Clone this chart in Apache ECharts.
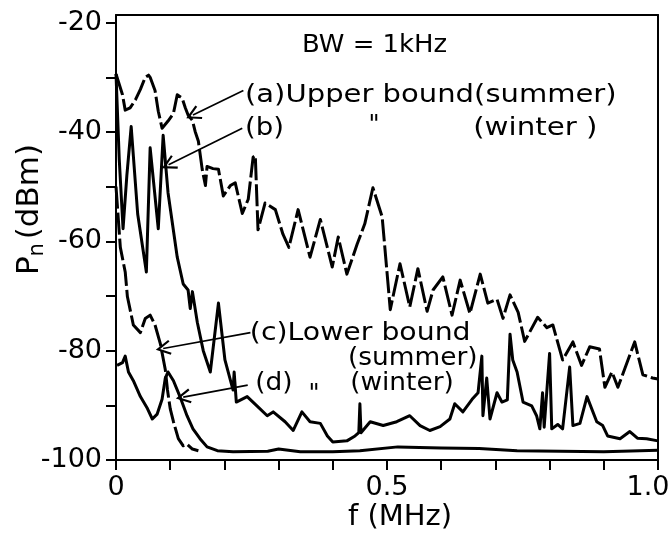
<!DOCTYPE html>
<html>
<head>
<meta charset="utf-8">
<script src="https://cdn.jsdelivr.net/npm/echarts@6/dist/echarts.min.js"></script>
<style>
  html, body { margin: 0; padding: 0; background: #fff; }
  #chart { width: 668px; height: 539px; }
</style>
</head>
<body>
<div id="chart"></div>
<script>
// Axis ticks and labels
const xTickValues = [0, 0.1, 0.2, 0.3, 0.4, 0.5, 0.6, 0.7, 0.8, 0.9, 1.0];
const xLabelValues = [0, 0.5, 1.0];
const yTickValues = [-100, -90, -80, -70, -60, -50, -40, -30, -20];
const yLabelValues = [-100, -80, -60, -40, -20];

// Noise power spectra, [frequency (MHz), Pn (dBm)]
// (a) upper bound, summer
const upperSummer = [
  [0.000, -29.4], [0.012, -33.2], [0.017, -36.0], [0.026, -35.6], [0.036, -34.1], [0.045, -32.2],
  [0.054, -30.0], [0.060, -29.6], [0.063, -30.0], [0.072, -32.4], [0.078, -36.2], [0.085, -39.3],
  [0.096, -38.0], [0.106, -36.6], [0.113, -33.2], [0.122, -33.8], [0.128, -35.6], [0.133, -36.9],
  [0.141, -37.9], [0.146, -39.9], [0.152, -41.7], [0.159, -46.8], [0.165, -49.8], [0.168, -46.3],
  [0.179, -46.7], [0.189, -46.8], [0.198, -51.7], [0.211, -49.8], [0.220, -49.3], [0.233, -54.9],
  [0.244, -52.3], [0.253, -44.6], [0.257, -44.3], [0.262, -57.9], [0.275, -53.0], [0.294, -54.2],
  [0.308, -58.7], [0.319, -61.1], [0.336, -54.2], [0.358, -62.9], [0.377, -56.0], [0.399, -64.7],
  [0.410, -59.2], [0.426, -66.0], [0.445, -60.5], [0.459, -56.8], [0.474, -50.2], [0.491, -55.5],
  [0.496, -61.1], [0.506, -72.5], [0.524, -64.1], [0.542, -72.0], [0.557, -65.0], [0.574, -72.8],
  [0.585, -68.9], [0.603, -66.5], [0.620, -73.5], [0.635, -67.1], [0.653, -73.2], [0.672, -66.0],
  [0.686, -71.3], [0.703, -70.6], [0.714, -74.1], [0.727, -69.8], [0.742, -73.0], [0.754, -78.3],
  [0.778, -73.9], [0.795, -75.8], [0.806, -75.3], [0.824, -81.7], [0.843, -78.4], [0.859, -82.7],
  [0.874, -79.3], [0.892, -79.7], [0.902, -86.7], [0.915, -83.9], [0.926, -86.7], [0.957, -78.4],
  [0.972, -84.4], [0.990, -85.0], [1.000, -85.2]
];
// (b) upper bound, winter
const upperWinter = [
  [0.000, -29.4], [0.006, -45.0], [0.013, -57.7], [0.020, -48.0], [0.028, -39.0], [0.040, -55.0],
  [0.056, -65.6], [0.063, -42.9], [0.078, -57.7], [0.087, -40.6], [0.096, -51.1], [0.113, -62.9],
  [0.124, -67.8], [0.133, -68.9], [0.137, -72.3], [0.141, -69.2], [0.150, -74.8], [0.161, -80.0],
  [0.174, -83.9], [0.189, -71.3], [0.201, -81.7], [0.216, -87.2], [0.218, -83.9], [0.222, -89.4],
  [0.242, -88.4], [0.260, -90.1], [0.279, -91.9], [0.290, -91.2], [0.312, -93.0], [0.327, -94.6],
  [0.343, -91.2], [0.358, -93.0], [0.377, -93.3], [0.390, -95.6], [0.400, -96.7], [0.426, -96.5],
  [0.441, -95.6], [0.448, -95.0], [0.450, -89.7], [0.452, -95.0], [0.469, -93.0], [0.493, -93.7],
  [0.518, -93.0], [0.542, -91.9], [0.561, -93.7], [0.579, -94.6], [0.598, -93.9], [0.616, -92.5],
  [0.625, -89.7], [0.640, -91.2], [0.657, -88.9], [0.668, -87.7], [0.675, -81.0], [0.677, -91.9],
  [0.684, -85.0], [0.690, -92.5], [0.703, -87.7], [0.712, -89.4], [0.722, -89.0], [0.727, -77.0],
  [0.732, -81.7], [0.740, -83.9], [0.751, -89.4], [0.767, -90.1], [0.776, -91.9], [0.782, -94.3],
  [0.787, -87.7], [0.790, -94.0], [0.800, -80.5], [0.804, -94.3], [0.815, -93.5], [0.824, -94.3],
  [0.837, -83.0], [0.843, -93.7], [0.856, -93.3], [0.869, -88.4], [0.887, -93.0], [0.898, -93.7],
  [0.907, -95.6], [0.930, -96.1], [0.948, -94.8], [0.962, -96.0], [0.979, -96.1], [1.000, -96.5]
];
// (c) lower bound, summer
const lowerSummer = [
  [0.000, -50.0], [0.008, -61.1], [0.017, -65.6], [0.021, -70.1], [0.032, -75.3], [0.045, -76.7],
  [0.054, -74.1], [0.063, -73.5], [0.072, -75.3], [0.082, -78.8], [0.091, -83.5], [0.095, -87.2],
  [0.100, -90.6], [0.106, -93.0], [0.115, -96.1], [0.124, -97.4], [0.131, -97.1], [0.141, -98.0],
  [0.152, -98.3]
];
// (d) lower bound, winter
const lowerWinter = [
  [0.002, -82.7], [0.012, -82.2], [0.017, -81.0], [0.023, -83.9], [0.032, -85.5], [0.045, -88.4],
  [0.058, -90.6], [0.067, -92.5], [0.076, -91.6], [0.085, -88.9], [0.091, -85.0], [0.096, -83.9],
  [0.106, -85.5], [0.118, -88.4], [0.131, -91.9], [0.142, -94.3], [0.155, -96.1], [0.168, -97.6],
  [0.187, -98.3], [0.216, -98.5], [0.280, -98.4], [0.300, -98.0], [0.340, -98.5], [0.400, -98.5],
  [0.450, -98.3], [0.520, -97.6], [0.600, -97.8], [0.670, -97.9], [0.740, -98.3], [0.820, -98.4],
  [0.900, -98.5], [1.000, -98.2]
];

// Leader arrows (from text to curve), in data coordinates
const arrowA = [[0.235, -32.4], [0.142, -36.9]];
const arrowB = [[0.233, -39.3], [0.097, -46.0]];
const arrowC = [[0.248, -76.7], [0.087, -79.6]];
const arrowD = [[0.243, -86.3], [0.124, -88.5]];

// Annotation texts anchored at their left/middle point in data coordinates
const notes = [
  { text: 'BW = 1kHz', at: [0.343, -24.3], sx: 1.08 },
  { text: '(a)Upper bound(summer)', at: [0.238, -33.4], sx: 1.21 },
  { text: '(b)', at: [0.238, -39.5], sx: 1.15 },
  { text: '"', at: [0.466, -38.9], sx: 1.0 },
  { text: '(winter )', at: [0.659, -39.5], sx: 1.22 },
  { text: '(c)Lower bound', at: [0.247, -76.9], sx: 1.18 },
  { text: '(summer)', at: [0.428, -81.5], sx: 1.1 },
  { text: '(d)', at: [0.257, -86.0], sx: 1.1 },
  { text: '"', at: [0.355, -88.0], sx: 1.0 },
  { text: '(winter)', at: [0.432, -86.0], sx: 1.1 }
];

const FONT = 'DejaVu Sans';
const INK = '#000';
const arrowHead = 'path://M5,0 L10,10 L8.8,10.8 L5,3.2 L1.2,10.8 L0,10 Z';

function leader(pts) {
  return {
    silent: true,
    symbol: ['none', arrowHead],
    symbolSize: 15,
    label: { show: false },
    lineStyle: { color: INK, width: 1.7, type: 'solid' },
    itemStyle: { color: INK },
    emphasis: { disabled: true },
    animation: false,
    data: [[{ coord: pts[0] }, { coord: pts[1] }]]
  };
}

function curve(name, data, dashed, pts) {
  return {
    name: name,
    type: 'line',
    data: data,
    showSymbol: false,
    symbol: 'none',
    clip: true,
    lineStyle: { color: INK, width: 3, type: dashed ? [22, 4] : 'solid', join: 'round' },
    emphasis: { disabled: true },
    markLine: leader(pts)
  };
}

const chart = echarts.init(document.getElementById('chart'), null, { renderer: 'canvas' });

chart.setOption({
  animation: false,
  backgroundColor: '#fff',
  grid: { left: 116, right: 10, top: 15, bottom: 79, containLabel: false, outerBoundsMode: 'none' },
  xAxis: [{
    type: 'value', min: 0, max: 1, position: 'bottom',
    axisLine: { onZero: false, lineStyle: { color: INK, width: 2 } },
    axisTick: { show: true, inside: false, length: 10, customValues: xTickValues, lineStyle: { color: INK, width: 2 } },
    axisLabel: {
      customValues: xLabelValues, margin: 14, color: INK, fontFamily: FONT, fontSize: 27,
      formatter: v => (v === 0 ? '0' : v === 1 ? '{end|1.0}' : v.toFixed(1)),
      rich: { end: { fontFamily: FONT, fontSize: 27, color: INK, padding: [0, 20, 0, 0] } }
    },
    splitLine: { show: false },
    name: 'f (MHz)', nameLocation: 'middle', nameGap: 43, nameMoveOverlap: false,
    nameTextStyle: { color: INK, fontFamily: FONT, fontSize: 29, padding: [0, 0, 0, 26] }
  }, {
    type: 'value', min: 0, max: 1, position: 'top',
    axisLine: { onZero: false, lineStyle: { color: INK, width: 2 } },
    axisTick: { show: false }, axisLabel: { show: false }, splitLine: { show: false }
  }],
  yAxis: [{
    type: 'value', min: -100, max: -18.6, position: 'left',
    axisLine: { onZero: false, lineStyle: { color: INK, width: 2 } },
    axisTick: { show: true, inside: false, length: 10, customValues: yTickValues, lineStyle: { color: INK, width: 2 } },
    axisLabel: { customValues: yLabelValues, margin: 14, color: INK, fontFamily: FONT, fontSize: 27 },
    splitLine: { show: false },
    name: '{p|P}{n|n} {u|(dBm)}', nameLocation: 'middle', nameRotate: 90, nameGap: 68,
    nameMoveOverlap: false,
    nameTextStyle: {
      color: INK, fontFamily: FONT, padding: [0, 0, 0, 56],
      rich: {
        p: { fontFamily: FONT, fontSize: 31, color: INK },
        n: { fontFamily: FONT, fontSize: 21, color: INK, padding: [15, 0, 0, 0] },
        u: { fontFamily: FONT, fontSize: 31, color: INK }
      }
    }
  }, {
    type: 'value', min: -100, max: -18.6, position: 'right',
    axisLine: { onZero: false, lineStyle: { color: INK, width: 2 } },
    axisTick: { show: false }, axisLabel: { show: false }, splitLine: { show: false }
  }],
  series: [
    curve('(a) upper bound, summer', upperSummer, true, arrowA),
    curve('(b) upper bound, winter', upperWinter, false, arrowB),
    curve('(c) lower bound, summer', lowerSummer, true, arrowC),
    curve('(d) lower bound, winter', lowerWinter, false, arrowD)
  ]
});

// Place the annotation texts through the axis scales
chart.setOption({
  graphic: notes.map(n => {
    const p = chart.convertToPixel({ xAxisIndex: 0, yAxisIndex: 0 }, n.at);
    return {
      type: 'text', x: p[0], y: p[1], scaleX: n.sx, silent: true,
      style: { text: n.text, fill: INK, font: '24px "' + FONT + '"', align: 'left', verticalAlign: 'middle' }
    };
  })
});
</script>
</body>
</html>
